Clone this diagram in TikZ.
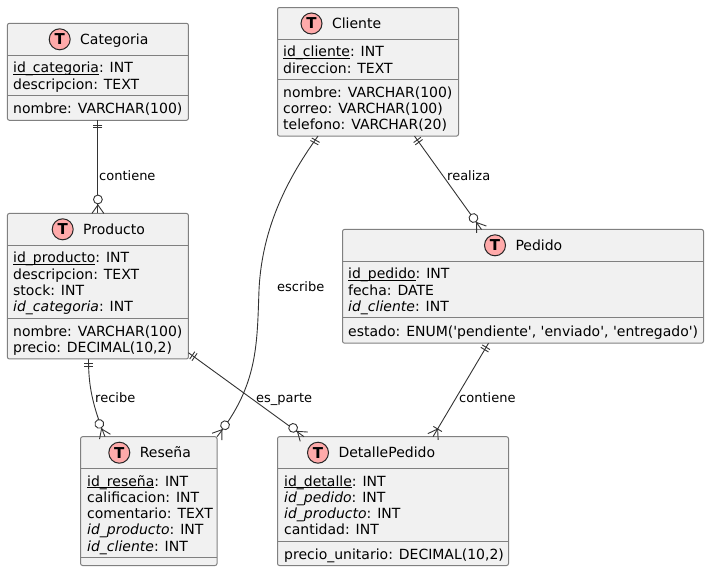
\documentclass[tikz,border=0pt]{standalone}
\usepackage{fontspec}
\setmainfont{DejaVu Sans}
\newcommand{\us}{\_}
\newcommand{\keyname}[1]{\setbox0\hbox{#1}\rlap{\vrule width\wd0 height -1.2pt depth 2pt}\box0}
\tikzset{
  tablebox/.style={draw=black!50,line width=1pt,fill=tablefill,rounded corners=2pt,inner sep=0pt,outer sep=0pt},
  rowline/.style={draw=black!50,line width=1pt},
  badge/.style={circle,draw=black!85,line width=1pt,fill=badgefill,minimum size=21pt,inner sep=0pt,font=\fontsize{15}{15}\selectfont\bfseries},
  titletext/.style={anchor=base west,inner sep=0pt,font=\fontsize{14}{14}\selectfont},
  fieldtext/.style={anchor=base west,inner sep=0pt,font=\fontsize{14}{14}\selectfont},
  linktext/.style={anchor=base west,inner sep=0pt,font=\fontsize{13}{13}\selectfont},
  link/.style={draw=black!80,line width=0.9pt},
  pics/onebar/.style={code={
    \draw[link] (4.7,-4.5) -- (4.7,4.5);
    \draw[link] (7.5,-4.5) -- (7.5,4.5);
  }},
  pics/crowzero/.style={code={
    \draw[link] (0,-6) -- (8.5,0) -- (0,6);
    \draw[link,fill=white] (14,0) circle (4.4pt);
  }},
  pics/crowone/.style={code={
    \draw[link] (0,-6) -- (9,0) -- (0,6);
    \draw[link] (9,-5) -- (9,5);
  }},
}
\definecolor{tablefill}{HTML}{F1F1F1}
\definecolor{badgefill}{HTML}{FFAAAA}
\begin{document}
\begin{tikzpicture}[x=1pt,y=-1pt]
    \useasboundingbox (0,0) rectangle (709,571);
    % tables
    \foreach \name/\cx/\cy/\w/\h in {categoria/97.9/71.8/181/97,cliente/368/71.8/181/128.6,producto/97.9/286.2/181/145.5,pedido/523/286.3/361/113.7,resena/148.8/501.1/136.4/128.8,detalle/393/501.1/231/128.8}
        \node[tablebox,minimum width=\w pt,minimum height=\h pt] (\name) at (\cx,\cy) {};
    % header and member dividers
    \foreach \name/\y in {categoria/55.3,categoria/95.3,cliente/39.5,cliente/79.5,producto/245.5,producto/318,pedido/261.5,pedido/317.8,resena/468.4,resena/557.5,detalle/468.4,detalle/541.2}
        \draw[rowline] (\name.west |- 0,\y) -- (\name.east |- 0,\y);
    % titles
    \foreach \name/\tname/\cx/\cy/\tx/\ty/\txt in {categoria/categoria-t/59.7/39.3/80/44.3/Categoria,cliente/cliente-t/311.5/23.5/331.8/28.5/Cliente,producto/producto-t/62.7/229.3/83/234.3/Producto,pedido/pedido-t/495/245.3/515.3/250.3/Pedido,resena/resena-t/119.3/452.7/139.6/457.7/Reseña,detalle/detalle-t/318/452.7/338.3/457.7/DetallePedido}{
        \node[badge] (\tname) at (\cx,\cy) {T};
        \node[titletext] (\name-title) at (\tx,\ty) {\txt};
    }
    % members
    \foreach \id/\x/\y/\txt in {
        cat1/13/72.7/{\keyname{id\us categoria}: INT},
        cat2/13/89/{descripcion: TEXT},
        cat3/13/113.7/{nombre: VARCHAR(100)},
        cli1/283/56.9/{\keyname{id\us cliente}: INT},
        cli2/283/73.2/{direccion: TEXT},
        cli3/283/97/{nombre: VARCHAR(100)},
        cli4/283/113.3/{correo: VARCHAR(100)},
        cli5/283/129.6/{telefono: VARCHAR(20)},
        pro1/13/262.9/{\keyname{id\us producto}: INT},
        pro2/13/279.2/{descripcion: TEXT},
        pro3/13/295.5/{stock: INT},
        pro4/13/311.8/{\textit{id\us categoria}: INT},
        pro5/13/336.4/{nombre: VARCHAR(100)},
        pro6/13/352.7/{precio: DECIMAL(10,2)},
        ped1/348/278.9/{\keyname{id\us pedido}: INT},
        ped2/348/295.2/{fecha: DATE},
        ped3/348/311.5/{\textit{id\us cliente}: INT},
        ped4/348/336.2/{estado: ENUM(\textquotesingle pendiente\textquotesingle, \textquotesingle enviado\textquotesingle, \textquotesingle entregado\textquotesingle)},
        res1/87/486/{\keyname{id\us reseña}: INT},
        res2/87/502.3/{calificacion: INT},
        res3/87/518.6/{comentario: TEXT},
        res4/87/534.9/{\textit{id\us producto}: INT},
        res5/87/551.2/{\textit{id\us cliente}: INT},
        det1/284/486/{\keyname{id\us detalle}: INT},
        det2/284/502.3/{\textit{id\us pedido}: INT},
        det3/284/518.6/{\textit{id\us producto}: INT},
        det4/284/534.9/{cantidad: INT},
        det5/284/559.6/{precio\us unitario: DECIMAL(10,2)}}
        \node[fieldtext] (\id) at (\x,\y) {\txt};
    % link ends on the tables
    \coordinate (cliente-a) at (318,136.1);
    \coordinate (cliente-b) at (414.5,136.1);
    \coordinate (cliente-c) at (259,290);
    \coordinate (producto-a) at (88.5,359);
    \coordinate (producto-b) at (188.4,352.7);
    \coordinate (pedido-a) at (481.5,229.5);
    \coordinate (pedido-b) at (488.5,343.2);
    \coordinate (resena-a) at (105,436.7);
    \coordinate (resena-b) at (217,436.7);
    \coordinate (detalle-a) at (304,436.7);
    \coordinate (detalle-b) at (433,436.7);
    % links
    \draw[link] (categoria.south) -- (producto.north);
    \draw[link] (cliente-a) .. controls (290,175) and (262,225) .. (cliente-c) .. controls (257,345) and (258,385) .. (resena-b);
    \draw[link] (cliente-b) -- (pedido-a);
    \draw[link] (producto-a) .. controls (88.5,385) and (92,404) .. (resena-a);
    \draw[link] (producto-b) -- (detalle-a);
    \draw[link] (pedido-b) -- (detalle-b);
    % link ends
    \pic[rotate=-90] at (categoria.south) {onebar};
    \pic[rotate=90] at (producto.north) {crowzero};
    \pic[rotate=-119] at (cliente-a) {onebar};
    \pic[rotate=55] at (resena-b) {crowzero};
    \pic[rotate=-54] at (cliente-b) {onebar};
    \pic[rotate=125] at (pedido-a) {crowzero};
    \pic[rotate=-90] at (producto-a) {onebar};
    \pic[rotate=114] at (resena-a) {crowzero};
    \pic[rotate=-35] at (producto-b) {onebar};
    \pic[rotate=141] at (detalle-a) {crowzero};
    \pic[rotate=-121] at (pedido-b) {onebar};
    \pic[rotate=59] at (detalle-b) {crowone};
    % link labels
    \node[linktext] (contiene-a) at (99,180) {contiene};
    \node[linktext] (escribe) at (277,291) {escribe};
    \node[linktext] (realiza) at (447,180) {realiza};
    \node[linktext] (recibe) at (95,402) {recibe};
    \node[linktext] (es-parte) at (256,402) {es\us parte};
    \node[linktext] (contiene-b) at (459,402) {contiene};
\end{tikzpicture}
\end{document}
